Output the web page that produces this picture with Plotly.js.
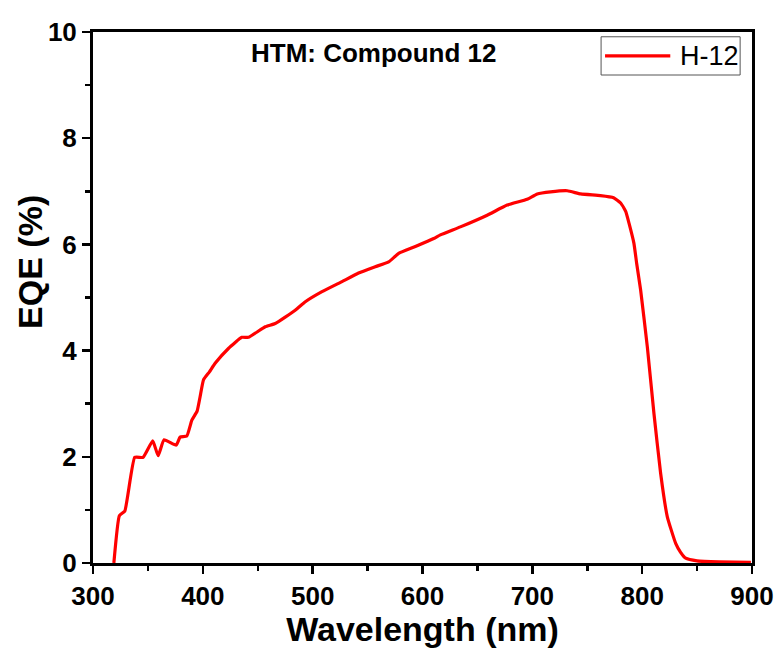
<!DOCTYPE html>
<html>
<head>
<meta charset="utf-8">
<script src="https://cdn.plot.ly/plotly-3.0.1.min.js"></script>
<style>html,body{margin:0;padding:0;background:#fff;}#chart{width:779px;height:648px;}</style>
</head>
<body>
<div id="chart"></div>
<script>
const wavelength = [319, 324, 329, 338, 345.6, 354.4, 359.3, 364.7, 375.7, 379.3, 385.4, 390, 394.8, 397.5, 400.6, 406, 411.2, 423.3, 435.5, 441.6, 456.8, 465.9, 484.1, 493.3, 508.5, 526.7, 541.8, 557, 569.2, 578.3, 593.5, 610.2, 616.3, 634.5, 658.9, 677.1, 695.3, 704.5, 716.6, 731.8, 744, 762, 774, 780.4, 785, 788, 792.5, 795, 798.6, 804.7, 810.7, 816.8, 822.9, 830.5, 835, 839.6, 850, 870, 899];
const eqe = [0, 0.89, 0.98, 1.99, 1.99, 2.30, 2.02, 2.32, 2.22, 2.37, 2.39, 2.69, 2.86, 3.13, 3.45, 3.6, 3.76, 4.04, 4.25, 4.25, 4.45, 4.51, 4.76, 4.92, 5.11, 5.30, 5.46, 5.58, 5.67, 5.83, 5.96, 6.11, 6.18, 6.33, 6.55, 6.74, 6.85, 6.95, 6.99, 7.01, 6.95, 6.92, 6.88, 6.78, 6.62, 6.4, 6.02, 5.64, 5.14, 4.07, 2.82, 1.69, 0.87, 0.37, 0.2, 0.09, 0.04, 0.02, 0.01];
const seriesName = 'H-12';
const chartTitle = 'HTM: Compound 12';
const xTitle = 'Wavelength (nm)';
const yTitle = 'EQE (%)';
const xTicks = [300, 400, 500, 600, 700, 800, 900];
const yTicks = [0, 2, 4, 6, 8, 10];

const FONT = '"Liberation Sans", Arial, sans-serif';
const red = 'rgb(255,0,0)';

const trace = {
  x: wavelength, y: eqe, type: 'scatter', mode: 'lines', name: seriesName,
  line: {color: red, width: 3.2, shape: 'spline', smoothing: 0.4}, showlegend: false
};

const axisCommon = {
  showline: true, linecolor: '#000', linewidth: 3, mirror: true,
  ticks: 'outside', ticklen: 8, tickwidth: 2.5, tickcolor: '#000',
  showgrid: false, zeroline: false,
  tickfont: {family: FONT, size: 26, color: '#000', weight: 'bold'}
};

const layout = {
  width: 779, height: 648,
  margin: {l: 93, r: 27, t: 32, b: 85},
  paper_bgcolor: '#fff', plot_bgcolor: '#fff',
  font: {family: FONT, color: '#000'},
  xaxis: Object.assign({}, axisCommon, {
    range: [300, 900], tickvals: xTicks, ticktext: xTicks.map(String),
    minor: {ticks: 'outside', ticklen: 5, tickwidth: 2.5, tickcolor: '#000', dtick: 50, tick0: 300},
    title: {text: xTitle, font: {family: FONT, size: 34, color: '#000', weight: 'bold'}, standoff: 6}
  }),
  yaxis: Object.assign({}, axisCommon, {
    range: [0, 10], tickvals: yTicks, ticktext: yTicks.map(String),
    minor: {ticks: 'outside', ticklen: 5, tickwidth: 2.5, tickcolor: '#000', dtick: 1, tick0: 0}
  }),
  shapes: [
    {type: 'rect', xref: 'paper', yref: 'paper', x0: 0.771, x1: 0.982, y0: 0.919, y1: 0.991,
     line: {color: '#555', width: 1}, fillcolor: 'rgba(0,0,0,0)'},
    {type: 'line', xref: 'paper', yref: 'paper', x0: 0.777, x1: 0.876, y0: 0.955, y1: 0.955,
     line: {color: red, width: 3.2}}
  ],
  annotations: [
    {text: chartTitle, xref: 'paper', yref: 'paper', x: 0.4264, y: 0.960, xanchor: 'center', yanchor: 'middle',
     showarrow: false, font: {family: FONT, size: 26, color: '#000', weight: 'bold'}},
    {text: seriesName, xref: 'paper', yref: 'paper', x: 0.8877, y: 0.955, xanchor: 'left', yanchor: 'middle',
     showarrow: false, font: {family: FONT, size: 27, color: '#000'}},
    {text: yTitle, xref: 'paper', yref: 'paper', x: -0.0956, y: 0.567, xanchor: 'center', yanchor: 'middle',
     textangle: -90, showarrow: false, font: {family: FONT, size: 34, color: '#000', weight: 'bold'}}
  ]
};

Plotly.newPlot('chart', [trace], layout, {staticPlot: true, displayModeBar: false});
</script>
</body>
</html>
